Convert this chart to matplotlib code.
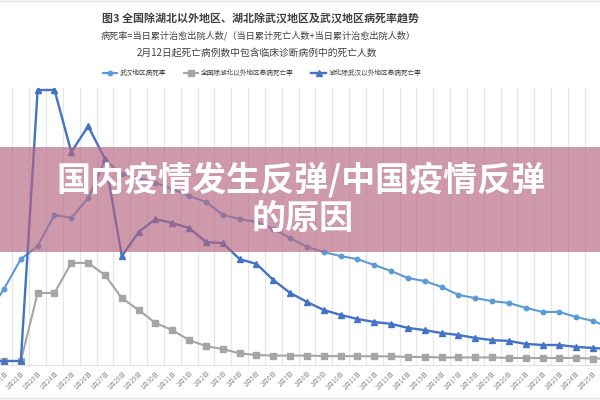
import matplotlib
matplotlib.use("Agg")
import matplotlib.pyplot as plt
from matplotlib.patches import Rectangle
from matplotlib.lines import Line2D

plt.rcParams['font.family'] = ['Noto Sans CJK SC', 'DejaVu Sans']

dates = ['1月20日', '1月21日', '1月22日', '1月23日', '1月24日', '1月25日', '1月26日',
         '1月27日', '1月28日', '1月29日', '1月30日', '1月31日', '2月1日', '2月2日',
         '2月3日', '2月4日', '2月5日', '2月6日', '2月7日', '2月8日', '2月9日',
         '2月10日', '2月11日', '2月12日', '2月13日', '2月14日', '2月15日', '2月16日',
         '2月17日', '2月18日', '2月19日', '2月20日', '2月21日', '2月22日', '2月23日',
         '2月24日', '2月25日', '2月26日']

# 病死率 (%)
wuhan = [17.0, 26.6, 37.6, 42.4, 53.9, 52.8, 60.1, 74.2, 69.0, 67.5, 65.7, 63.5,
         60.9, 58.7, 53.9, 52.4, 51.3, 48.7, 45.4, 42.1, 40.2, 38.7, 37.6, 35.4,
         33.2, 30.6, 29.5, 27.3, 24.4, 23.2, 22.1, 21.4, 19.6, 18.1, 18.1, 16.2,
         14.8, 12.2]
quanguo = [0, 0, 0, 25.1, 25.1, 36.2, 36.2, 31.7, 23.2, 18.8, 14.0, 11.4,
           7.7, 5.5, 4.4, 2.8, 2.2, 2.0, 2.0, 2.0, 1.8, 1.8, 1.8, 1.7,
           1.7, 1.5, 1.5, 1.3, 1.3, 1.3, 1.3, 1.1, 1.1, 1.1, 1.1, 1.1,
           0.9, 0.9]
hubei = [0, 0, 0, 100, 100, 77.1, 86.7, 74.5, 38.7, 47.6, 52.4, 50.9,
         49.1, 43.9, 43.5, 37.6, 35.8, 29.9, 25.1, 21.8, 18.8, 17.0, 15.5, 14.4,
         13.7, 12.2, 11.4, 10.3, 9.6, 8.5, 7.7, 7.4, 6.3, 5.9, 5.9, 5.2,
         4.8, 4.4]

fig = plt.figure(figsize=(6, 4), dpi=100)
ax = fig.add_axes([0, 35 / 400, 1, 277 / 400])

x = list(range(len(dates)))
ax.plot(x, wuhan, color='#5B9BD5', lw=1.5, marker='o', ms=3.2, label='武汉地区病死率')
ax.plot(x, quanguo, color='#A5A5A5', lw=1.5, marker='s', ms=3.8, label='全国除湖北以外地区患病死亡率')
ax.plot(x, hubei, color='#4472C4', lw=1.7, marker='^', ms=4.2, label='湖北除武汉以外地区患病死亡率')

ax.set_yticks([])
ax.set_xticks(x)
ax.set_xticklabels(dates, rotation=45, ha='right', va='top', rotation_mode='anchor',
                   fontsize=4.5, color='#8C8C8C')
ax.tick_params(axis='x', length=0, pad=3)
ax.set_xticks([i + 0.5 for i in x], minor=True)
ax.tick_params(axis='x', which='minor', length=0)
ax.grid(True, which='minor', axis='x', color='#E6E6E6', lw=0.9)
ax.set_xlim(0.762, 36.41)
ax.set_ylim(-1.48, 100.74)
for s in ['top', 'left', 'right']:
    ax.spines[s].set_visible(False)
ax.spines['bottom'].set_color('#E0E0E0')

fig.text(261 / 600, 1 - 18 / 400, '图3 全国除湖北以外地区、湖北除武汉地区及武汉地区病死率趋势',
         ha='center', va='center', fontsize=7.9, fontweight='bold', color='#404040')
fig.text(258 / 600, 1 - 36 / 400, '病死率=当日累计治愈出院人数/（当日累计死亡人数+当日累计治愈出院人数）',
         ha='center', va='center', fontsize=6.6, color='#404040')
fig.text(257 / 600, 1 - 53 / 400, '2月12日起死亡病例数中包含临床诊断病例中的死亡人数',
         ha='center', va='center', fontsize=7.0, color='#404040')

fig.legend(loc='center', bbox_to_anchor=(262 / 600, 1 - 73 / 400), ncol=3, frameon=False,
           fontsize=4.8, handlelength=2.2, columnspacing=2.6, handletextpad=0.4,
           labelcolor='#404040')

fig.add_artist(Line2D([0, 1], [1 - 1 / 400, 1 - 1 / 400], color='#E0E0E0', lw=1))
fig.add_artist(Line2D([0, 1], [1 - 398 / 400, 1 - 398 / 400], color='#E0E0E0', lw=1))

# banner overlay
fig.add_artist(Rectangle((0, 1 - 252 / 400), 1, 105 / 400, transform=fig.transFigure,
                         facecolor='#b5647f', alpha=0.65, edgecolor='none'))
fig.text(301 / 600, 1 - 180 / 400, '国内疫情发生反弹/中国疫情反弹', ha='center', va='center',
         fontsize=24.5, fontweight='bold', color='white')
fig.text(303 / 600, 1 - 218 / 400, '的原因', ha='center', va='center',
         fontsize=24.5, fontweight='bold', color='white')

fig.savefig('out.png', dpi=100)
